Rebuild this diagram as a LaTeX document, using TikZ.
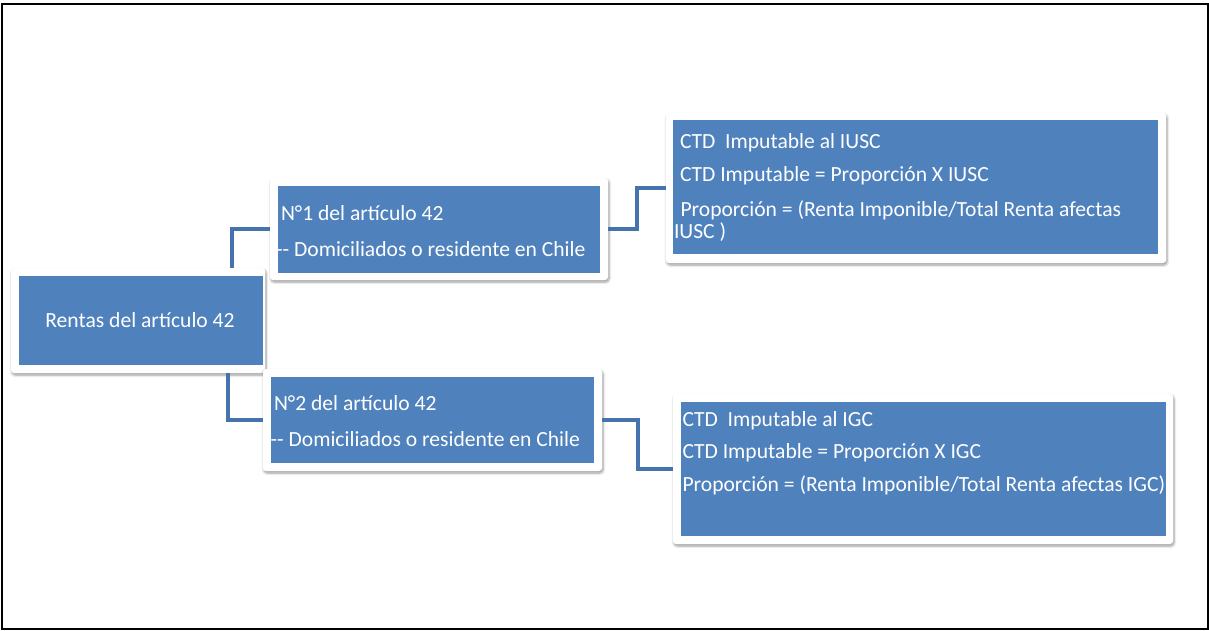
\documentclass[tikz,border=0pt]{standalone}
\usepackage{fontspec}
\setmainfont{Carlito}
\usetikzlibrary{shadows.blur}
\definecolor{boxblue}{HTML}{4F81BD}
\definecolor{linkblue}{HTML}{4672AE}
\begin{document}
\begin{tikzpicture}[x=1pt,y=-1pt,
  frame/.style={fill=white, rounded corners=3pt, inner sep=0pt, outer sep=0pt,
    blur shadow={shadow xshift=1pt, shadow yshift=-2pt, shadow blur steps=6, shadow blur radius=2.5pt, shadow opacity=40}},
  inbox/.style={fill=boxblue, inner sep=0pt, outer sep=0pt},
  conn/.style={draw=linkblue, line width=4.5pt},
  txt/.style={text=white, inner sep=0pt, outer sep=0pt, anchor=base west, font=\fontsize{21.6}{25}\selectfont}]
\useasboundingbox (0,0) rectangle (1209,631);
\draw[line width=2pt] (1.5,4) rectangle (1207.5,628.5);

% frames
\node[frame, minimum width=254pt, minimum height=105pt] (root) at (138,320.5) {};
\node[frame, minimum width=338pt, minimum height=102pt] (n1) at (439,229) {};
\node[frame, minimum width=339pt, minimum height=102pt] (n2) at (432.5,420) {};
\node[frame, minimum width=500pt, minimum height=150pt] (c1) at (916,188) {};
\node[frame, minimum width=500pt, minimum height=150pt] (c2) at (923,469) {};

% blue inner boxes
\node[inbox, minimum width=244pt, minimum height=89pt] (rootin) at (141,320.5) {};
\node[inbox, minimum width=322pt, minimum height=87pt] (n1in) at (439,229.5) {};
\node[inbox, minimum width=323pt, minimum height=86pt] (n2in) at (432.5,420) {};
\node[inbox, minimum width=485pt, minimum height=134pt] (c1in) at (915.5,187) {};
\node[inbox, minimum width=485pt, minimum height=134pt] (c2in) at (923.5,469) {};

% connectors
\draw[conn] ([xshift=221pt]root.north west) |- (n1.west);
\draw[conn] ([xshift=217pt]root.south west) |- (n2.west);
\draw[conn] (n1.east) -- ++(29,0) |- (c1.west);
\draw[conn] (n2.east) -- ++(36,0) |- (c2.west);

% texts
\node[txt, anchor=base] (troot) at (140,327) {Rentas del artículo 42};

\begin{scope}
\clip (n1in.north west) rectangle (n1in.south east);
\node[txt] (tn1a) at (281,220) {N°1 del artículo 42};
\node[txt] (tn1b) at (276,256) {-{}- Domiciliados o residente en Chile};
\end{scope}

\begin{scope}
\clip (n2in.north west) rectangle (n2in.south east);
\node[txt] (tn2a) at (274,410) {N°2 del artículo 42};
\node[txt] (tn2b) at (270.5,446) {-{}- Domiciliados o residente en Chile};
\end{scope}

\begin{scope}
\clip (c1in.north west) rectangle (c1in.south east);
\node[txt] (tc1a) at (680,149) {CTD\ \ Imputable al IUSC};
\node[txt] (tc1b) at (680,182) {CTD Imputable = Proporción X IUSC};
\node[txt] (tc1c) at (680.5,216) {Proporción = (Renta Imponible/Total Renta afectas};
\node[txt] (tc1d) at (674,238) {IUSC )};
\end{scope}

\begin{scope}
\clip (c2in.north west) rectangle (c2in.south east);
\node[txt] (tc2a) at (682.5,426) {CTD\ \ Imputable al IGC};
\node[txt] (tc2b) at (682.5,458) {CTD Imputable = Proporción X IGC};
\node[txt] (tc2c) at (682.5,491) {Proporción = (Renta Imponible/Total Renta afectas IGC)};
\end{scope}
\end{tikzpicture}
\end{document}
